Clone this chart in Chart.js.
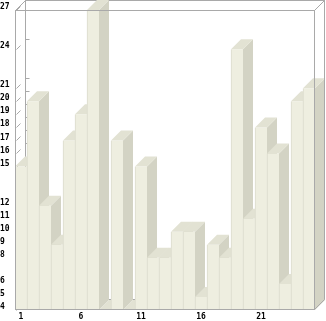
<!DOCTYPE html>
<html lang="en">
<head>
    <meta charset="UTF-8">
    <title>Chart</title>
    <script src="https://cdn.jsdelivr.net/npm/chart.js"></script>
    <style type="text/css">
        html, body {
            margin: 0;
            padding: 0;
            background: #ffffff;
        }

        #wrap {
            width: 326px;
            height: 321px;
        }
    </style>
</head>
<body>
<div id="wrap">
    <canvas id="myChart" width="326" height="321"></canvas>
</div>

<script>
  var labels = ['1', '2', '3', '4', '5', '6', '7', '8', '9', '10', '11', '12', '13',
    '14', '15', '16', '17', '18', '19', '20', '21', '22', '23', '24', '25'];
  var values = [15, 20, 12, 9, 17, 19, 27, 4, 17, 4, 15, 8, 8, 10, 10, 5, 9, 8, 24, 11, 18, 16, 6, 20, 21];
  var yTicks = [4, 5, 6, 8, 9, 10, 11, 12, 15, 16, 17, 18, 19, 20, 21, 24, 27];
  var yMin = 4;
  var yMax = 27;

  var depth = 10;
  var frameColor = '#a9a9a9';
  var frontColor = '#eeeee0';
  var topColor = '#e2e2d3';
  var sideColor = '#d3d3c4';

  function line(ctx, x1, y1, x2, y2) {
    ctx.beginPath();
    ctx.moveTo(x1, y1);
    ctx.lineTo(x2, y2);
    ctx.stroke();
  }

  // back walls, wall ticks, then side and top faces of the bars
  var box3d = {
    id: 'box3d',
    beforeDatasetsDraw: function (chart) {
      var ctx = chart.ctx;
      var a = chart.chartArea;
      var yScale = chart.scales.y;
      ctx.save();
      ctx.strokeStyle = frameColor;
      ctx.lineWidth = 1;
      var L = Math.round(a.left) + 0.5, R = Math.round(a.right) - 0.5;
      var T = Math.round(a.top) + 0.5, B = Math.round(a.bottom) - 0.5;
      // back rectangle
      ctx.strokeRect(L + depth, T - depth, R - L, B - T);
      line(ctx, L, B, L + depth, B - depth);
      // ticks on the walls
      for (var v of yTicks) {
        var y = Math.round(yScale.getPixelForValue(v)) + 0.5;
        line(ctx, L + 1, y, L + 5, y - 4);
        line(ctx, L + depth, y - depth, L + depth + 4, y - depth);
      }
      ctx.restore();

      var meta = chart.getDatasetMeta(0);
      ctx.save();
      meta.data.forEach(function (bar) {
        var x0 = bar.x - bar.width / 2;
        var x1 = bar.x + bar.width / 2;
        var top = bar.y;
        var base = bar.base;
        // side face
        ctx.fillStyle = sideColor;
        ctx.beginPath();
        ctx.moveTo(x1, base);
        ctx.lineTo(x1 + depth, base - depth);
        ctx.lineTo(x1 + depth, top - depth);
        ctx.lineTo(x1, top);
        ctx.closePath();
        ctx.fill();
        // top face
        ctx.fillStyle = topColor;
        ctx.beginPath();
        ctx.moveTo(x0, top);
        ctx.lineTo(x0 + depth, top - depth);
        ctx.lineTo(x1 + depth, top - depth);
        ctx.lineTo(x1, top);
        ctx.closePath();
        ctx.fill();
      });
      ctx.restore();
    },
    afterDatasetsDraw: function (chart) {
      var ctx = chart.ctx;
      var a = chart.chartArea;
      ctx.save();
      ctx.strokeStyle = frameColor;
      ctx.lineWidth = 1;
      var L = Math.round(a.left) + 0.5, R = Math.round(a.right) - 0.5;
      var T = Math.round(a.top) + 0.5, B = Math.round(a.bottom) - 0.5;
      ctx.strokeRect(L, T, R - L, B - T);
      line(ctx, L, T, L + depth, T - depth);
      line(ctx, R, T, R + depth, T - depth);
      line(ctx, R, B, R + depth, B - depth);
      line(ctx, R + depth, T - depth, R + depth, B - depth);
      ctx.restore();
    }
  };

  var ctx = document.getElementById('myChart').getContext('2d');
  var tickFont = {family: 'DejaVu Sans Mono', size: 8, weight: 'bold'};

  var myChart = new Chart(ctx, {
    type: 'bar',
    data: {
      labels: labels,
      datasets: [{
        data: values,
        base: yMin,
        backgroundColor: frontColor,
        borderColor: '#dcdccc',
        borderWidth: {left: 1, right: 0, top: 0, bottom: 0},
        borderSkipped: false,
        barPercentage: 1,
        categoryPercentage: 1
      }]
    },
    options: {
      responsive: false,
      animation: false,
      layout: {padding: {top: 10, right: 11, left: 0, bottom: 0}},
      plugins: {
        legend: {display: false},
        tooltip: {enabled: false}
      },
      scales: {
        x: {
          grid: {display: false, drawTicks: false},
          border: {display: false},
          ticks: {
            autoSkip: false,
            maxRotation: 0,
            padding: 2,
            color: '#000000',
            font: tickFont,
            callback: function (val, i) {
              return i % 5 === 0 ? labels[i] : '';
            }
          },
          afterFit: function (scale) {
            scale.height = 11;
          }
        },
        y: {
          min: yMin,
          max: yMax,
          beginAtZero: false,
          grid: {display: false, drawTicks: false},
          border: {display: false},
          ticks: {
            crossAlign: 'far',
            padding: 0,
            labelOffset: -3,
            color: '#000000',
            font: tickFont
          },
          afterBuildTicks: function (scale) {
            scale.ticks = yTicks.map(function (v) { return {value: v}; });
          },
          afterFit: function (scale) {
            scale.width = 15;
          }
        }
      }
    },
    plugins: [box3d]
  });
</script>
</body>
</html>
